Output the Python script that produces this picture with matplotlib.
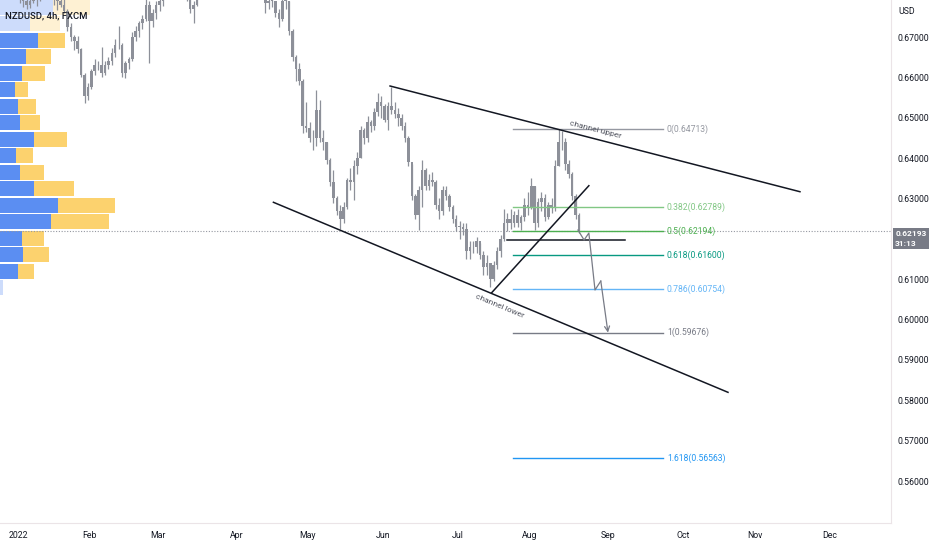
import matplotlib
matplotlib.use("Agg")
import matplotlib.pyplot as plt
import numpy as np
import pandas as pd
from matplotlib.transforms import blended_transform_factory

plt.rcParams["font.family"] = ["Roboto", "DejaVu Sans"]

# NZDUSD, daily OHLC (business days from 2022-01-03)
opens = [
    .6840, .6795, .6790, .6780, .6790, .6825, .6800, .6835, .6870, .6850,
    .6810, .6795, .6790, .6780, .6765, .6725, .6700, .6690, .6670, .6605,
    .6555, .6575, .6615, .6630, .6630, .6610, .6630, .6640, .6660, .6680,
    .6680, .6610, .6635, .6645, .6700, .6715, .6735, .6745, .6780, .6740,
    .6760, .6780, .6790, .6810, .6830, .6850, .6840, .6830, .6885, .6845,
    .6810, .6770, .6780, .6860, .6920, .6920, .6950, .6940, .6920, .6950,
    .6935, .6915, .6980, .6975, .6930, .6930, .6980, .6975, .6900, .6850,
    .6850, .6830, .6840, .6785, .6790, .6790, .6760, .6745, .6790, .6790,
    .6715, .6650, .6620, .6590, .6480, .6475, .6450, .6450, .6520, .6450,
    .6440, .6395, .6340, .6300, .6270, .6250, .6280, .6345, .6340, .6380,
    .6400, .6470, .6450, .6490, .6480, .6515, .6540, .6530, .6495, .6530,
    .6520, .6510, .6500, .6480, .6450, .6390, .6305, .6260, .6320, .6370,
    .6330, .6345, .6340, .6285, .6270, .6320, .6305, .6280, .6250, .6230,
    .6230, .6225, .6170, .6180, .6180, .6195, .6160, .6130, .6140, .6100,
    .6135, .6170, .6200, .6240, .6250, .6240, .6260, .6240, .6255, .6285,
    .6280, .6330, .6240, .6290, .6300, .6255, .6285, .6280, .6380, .6440,
    .6440, .6385, .6360, .6305, .6260,
]
highs = [
    .6850, .6810, .6815, .6800, .6830, .6830, .6840, .6880, .6890, .6860,
    .6815, .6800, .6810, .6800, .6770, .6735, .6705, .6702, .6672, .6610,
    .6585, .6620, .6645, .6640, .6675, .6640, .6650, .6672, .6695, .6728,
    .6685, .6640, .6650, .6712, .6728, .6740, .6755, .6795, .6790, .6770,
    .6790, .6800, .6820, .6840, .6860, .6885, .6870, .6900, .6895, .6850,
    .6815, .6790, .6870, .6930, .6935, .6960, .6970, .6960, .6960, .6965,
    .6945, .6990, .7000, .6975, .6945, .6985, .7035, .6970, .6900, .6875,
    .6870, .6860, .6830, .6815, .6805, .6790, .6770, .6800, .6820, .6790,
    .6720, .6655, .6635, .6595, .6540, .6490, .6470, .6569, .6545, .6470,
    .6440, .6400, .6370, .6305, .6285, .6290, .6350, .6375, .6395, .6415,
    .6480, .6475, .6505, .6495, .6525, .6562, .6555, .6535, .6540, .6576,
    .6540, .6525, .6510, .6490, .6455, .6385, .6310, .6330, .6395, .6375,
    .6360, .6365, .6345, .6300, .6330, .6330, .6310, .6285, .6260, .6245,
    .6240, .6240, .6195, .6195, .6205, .6190, .6170, .6160, .6140, .6145,
    .6180, .6210, .6275, .6265, .6275, .6270, .6275, .6260, .6300, .6315,
    .6350, .6330, .6300, .6315, .6310, .6290, .6300, .6395, .6471, .6468,
    .6450, .6395, .6365, .6310, .6265,
]
lows = [
    .6785, .6775, .6770, .6772, .6785, .6776, .6790, .6830, .6845, .6800,
    .6780, .6768, .6775, .6760, .6715, .6690, .6668, .6660, .6600, .6537,
    .6545, .6570, .6605, .6618, .6600, .6605, .6620, .6630, .6650, .6670,
    .6600, .6598, .6620, .6640, .6690, .6700, .6720, .6740, .6636, .6725,
    .6745, .6765, .6778, .6800, .6815, .6820, .6800, .6820, .6830, .6790,
    .6760, .6735, .6778, .6850, .6880, .6910, .6920, .6900, .6910, .6920,
    .6890, .6910, .6955, .6920, .6910, .6920, .6960, .6890, .6830, .6830,
    .6820, .6800, .6760, .6770, .6775, .6750, .6724, .6740, .6770, .6705,
    .6640, .6590, .6580, .6462, .6465, .6440, .6420, .6430, .6440, .6420,
    .6385, .6330, .6289, .6260, .6225, .6240, .6275, .6320, .6296, .6360,
    .6400, .6435, .6440, .6465, .6470, .6505, .6500, .6490, .6470, .6510,
    .6500, .6480, .6470, .6440, .6380, .6296, .6250, .6222, .6280, .6320,
    .6320, .6330, .6275, .6250, .6260, .6295, .6270, .6240, .6220, .6200,
    .6210, .6150, .6150, .6165, .6165, .6150, .6110, .6110, .6080, .6095,
    .6125, .6155, .6195, .6220, .6225, .6230, .6230, .6222, .6245, .6260,
    .6275, .6222, .6230, .6270, .6245, .6250, .6265, .6270, .6380, .6420,
    .6370, .6350, .6296, .6250, .6215,
]
closes = [
    .6795, .6790, .6780, .6790, .6825, .6800, .6835, .6870, .6850, .6810,
    .6795, .6790, .6780, .6765, .6725, .6700, .6690, .6670, .6605, .6555,
    .6575, .6615, .6630, .6630, .6610, .6630, .6640, .6660, .6680, .6680,
    .6610, .6635, .6645, .6700, .6715, .6735, .6745, .6780, .6740, .6760,
    .6780, .6790, .6810, .6830, .6850, .6840, .6830, .6885, .6845, .6810,
    .6770, .6780, .6860, .6920, .6920, .6950, .6940, .6920, .6950, .6935,
    .6915, .6980, .6975, .6930, .6930, .6980, .6975, .6900, .6850, .6850,
    .6830, .6840, .6785, .6790, .6790, .6760, .6745, .6790, .6790, .6715,
    .6650, .6620, .6590, .6480, .6475, .6450, .6450, .6520, .6450, .6440,
    .6395, .6340, .6300, .6270, .6250, .6280, .6345, .6340, .6380, .6400,
    .6470, .6450, .6490, .6480, .6515, .6540, .6530, .6495, .6530, .6520,
    .6510, .6500, .6480, .6450, .6390, .6305, .6260, .6320, .6370, .6330,
    .6345, .6340, .6285, .6270, .6320, .6305, .6280, .6250, .6230, .6230,
    .6225, .6170, .6180, .6180, .6195, .6160, .6130, .6140, .6100, .6135,
    .6170, .6200, .6240, .6250, .6240, .6260, .6240, .6255, .6285, .6280,
    .6330, .6240, .6290, .6300, .6255, .6285, .6280, .6380, .6440, .6440,
    .6385, .6360, .6305, .6260, .62193,
]

# visible volume profile rows, bottom to top (up / down volume, arbitrary units)
vp_low = 0.60583
vp_row = 0.004088
vp_up = [3, 18, 23, 22, 51, 58, 34, 20, 16, 34, 20, 18, 15, 22, 26, 38, 30, 53]
vp_down = [0, 16, 26, 22, 58, 57, 40, 24, 17, 33, 20, 18, 13, 23, 25, 27, 30, 37]
vp_value_area = (1, 15)  # rows drawn opaque

# fibonacci levels
fib_ratios = ["0", "0.382", "0.5", "0.618", "0.786", "1", "1.618"]
fib_prices = [0.64713, 0.62789, 0.62194, 0.61600, 0.60754, 0.59676, 0.56563]
fib_colors = ["#9598a1", "#81c784", "#4caf50", "#089981", "#64b5f6", "#787b86", "#2196f3"]
fib_x = (145.2, 189.1)

# drawings (x = bar index, y = price)
channel_upper = [(109.1, 0.65786), (229.3, 0.63167)]
channel_lower = [(74.9, 0.62905), (208.2, 0.58197)]
rising_line = [(138.9, 0.60665), (167.4, 0.63316)]
flat_line = [(143.3, 0.61971), (178.0, 0.61971)]
path_x = [164.2, 166.0, 167.4, 169.2, 170.9, 173.0]
path_y = [0.62218, 0.61971, 0.62144, 0.60732, 0.60955, 0.59676]

last_price = 0.62193
yticks = [0.56, 0.57, 0.58, 0.59, 0.60, 0.61, 0.63, 0.64, 0.65, 0.66, 0.67]

W, H = 932, 550
fig = plt.figure(figsize=(W / 100, H / 100), dpi=100)
ax = fig.add_axes([0, 27 / H, 891 / W, 523 / H])
ax.set_xlim(-5.28, 256.0)
ax.set_ylim(0.549595, 0.679167)

trans = blended_transform_factory(ax.transAxes, ax.transData)

# volume profile
for k, (up, dn) in enumerate(zip(vp_up, vp_down)):
    yc = vp_low + (k + 0.5) * vp_row
    alpha = 1.0 if vp_value_area[0] <= k <= vp_value_area[1] else 0.3
    ax.barh(yc, up / 891, left=0, height=vp_row * 0.93, color="#5b8ef2",
            alpha=alpha, transform=trans, zorder=1)
    ax.barh(yc, dn / 891, left=up / 891, height=vp_row * 0.93, color="#fcd26e",
            alpha=alpha, transform=trans, zorder=1)

# candles
o = np.array(opens)
c = np.array(closes)
x = np.arange(len(c)) + 0.5
candle_col = "#8d9099"
ax.vlines(x, lows, highs, color=candle_col, lw=0.9, zorder=3)
body = np.maximum(np.abs(c - o), 0.00008)
ax.bar(x, body, bottom=np.minimum(o, c), width=0.75, color=candle_col, zorder=3)

# last price line
ax.axhline(last_price, color="#9598a1", lw=0.8, ls=(0, (1, 1.5)), zorder=2)

# fib levels
for r, p, col in zip(fib_ratios, fib_prices, fib_colors):
    ax.plot(fib_x, [p, p], color=col, lw=1.0, zorder=4)
    ax.text(fib_x[1] + 1.2, p, f"{r}({p:.5f})", color=col, fontsize=6.2,
            va="center", ha="left", zorder=5)

# channel + trend drawings
for seg in (channel_upper, channel_lower, rising_line, flat_line):
    xs, ys = zip(*seg)
    ax.plot(xs, ys, color="#131722", lw=1.1, zorder=5)

ax.plot(path_x[:-1], path_y[:-1], color="#787b86", lw=0.9, zorder=5)
ax.annotate("", xy=(path_x[-1], path_y[-1]), xytext=(path_x[-2], path_y[-2]),
            arrowprops=dict(arrowstyle="->", color="#787b86", lw=0.9,
                            mutation_scale=9, shrinkA=0, shrinkB=0), zorder=5)

ax.text(169.2, 0.64696, "channel upper", fontsize=6.0, color="#50535e",
        rotation=-14.5, ha="center", va="center", rotation_mode="anchor", zorder=6)
ax.text(141.3, 0.60336, "channel lower", fontsize=6.0, color="#50535e",
        rotation=-22.6, ha="center", va="center", rotation_mode="anchor", zorder=6)

# axes styling
for s in ("top", "left"):
    ax.spines[s].set_visible(False)
ax.spines["right"].set_color("#ebe4e7")
ax.spines["bottom"].set_color("#ebe4e7")
ax.yaxis.tick_right()
ax.set_yticks(yticks)
ax.set_yticklabels([f"{v:.5f}" for v in yticks])
ax.tick_params(axis="y", length=0, pad=5, labelsize=6.3, labelcolor="#131722")

dates = pd.bdate_range("2022-01-03", "2022-12-30")
months = pd.Series(np.arange(len(dates)), index=dates).groupby(dates.month).first()
tick_labels = ["2022" if m == 1 else pd.Timestamp(2022, m, 1).strftime("%b") for m in months.index]
ax.set_xticks(months.values)
ax.set_xticklabels(tick_labels)
ax.tick_params(axis="x", length=0, pad=6, labelsize=6.3, labelcolor="#131722")

# price label box on the axis
ax.annotate(f"{last_price:.5f}\n31:13", xy=(1.0, last_price), xycoords=trans,
            xytext=(3.0, -5.4), textcoords="offset points", ha="left", va="center",
            fontsize=6.0, color="white", fontweight="bold", linespacing=1.4,
            annotation_clip=False,
            bbox=dict(boxstyle="square,pad=0.28", fc="#787b86", ec="none"))

fig.text(898 / W, 1 - 12 / H, "USD", fontsize=6.3, color="#131722", va="center")
fig.text(5 / W, 1 - 16 / H, "NZDUSD, 4h, FXCM", fontsize=6.8, color="#131722",
         va="center", fontweight="medium")

fig.savefig("out.png", dpi=100)
